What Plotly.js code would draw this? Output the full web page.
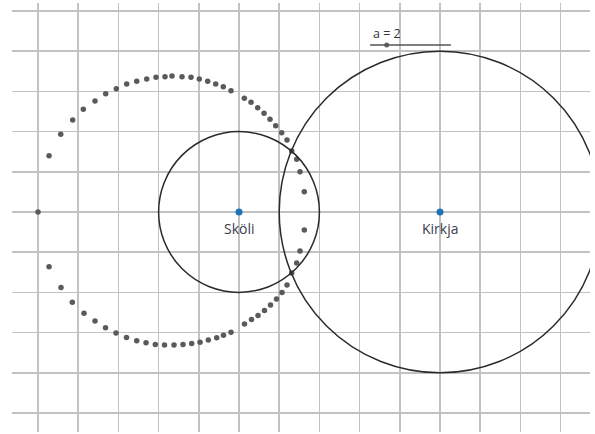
<!DOCTYPE html>
<html><head><meta charset="utf-8">
<script src="https://cdn.plot.ly/plotly-3.0.1.min.js"></script>
<style>html,body{margin:0;padding:0;background:#fff}</style>
</head><body><div id="chart" style="width:595px;height:434px"></div>
<script>
// Places
const placeNames = ["Sköli", "Kirkja"];
const placeX = [0, 5];
const placeY = [0, 0];
// Circles around places (radius in grid units)
const circleCenterX = [0, 5];
const circleCenterY = [0, 0];
const circleRadius = [2, 4];
// Locus dots
const dotX = [-5.0, -4.726, -4.435, -4.137, -3.873, -3.582, -3.316, -3.052, -2.794, -2.545, -2.296, -2.065, -1.841, -1.667, -1.418, -1.194, -0.988, -0.779, -0.580, -0.391, -0.199, 0.132, 0.299, 0.465, 0.622, 0.771, 0.913, 1.062, 1.194, 1.311, 1.435, 1.517, 1.624,
  -4.726, -4.428, -4.147, -3.856, -3.582, -3.321, -3.060, -2.799, -2.545, -2.313, -2.082, -1.853, -1.617, -1.393, -1.177, -0.970, -0.764, -0.555, -0.386, -0.199, 0.137, 0.311, 0.473, 0.634, 0.784, 0.933, 1.070, 1.194, 1.311, 1.435, 1.517, 1.624];
const dotY = [0.0, 1.400, 1.933, 2.289, 2.555, 2.761, 2.943, 3.067, 3.184, 3.251, 3.308, 3.351, 3.366, 3.383, 3.366, 3.351, 3.308, 3.251, 3.184, 3.117, 3.017, 2.828, 2.729, 2.595, 2.455, 2.306, 2.144, 1.973, 1.791, 1.517, 1.311, 1.002, 0.505,
  -1.361, -1.878, -2.246, -2.520, -2.711, -2.878, -3.010, -3.122, -3.201, -3.251, -3.296, -3.308, -3.308, -3.296, -3.271, -3.241, -3.184, -3.127, -3.067, -2.993, -2.786, -2.674, -2.575, -2.450, -2.313, -2.164, -2.002, -1.816, -1.517, -1.269, -0.970, -0.448];
// Slider "a = 2"
const sliderLabel = "a = 2";
const sliderStartX = 3.26, sliderEndX = 5.27, sliderY = 4.154;
const sliderKnobX = [3.674];

const traces = [
  {x: dotX, y: dotY, mode: "markers", type: "scatter",
   marker: {color: "#5a5a5a", size: 5.5}, hoverinfo: "skip"},
  {x: placeX, y: placeY, mode: "markers", type: "scatter",
   marker: {color: "#1f74b8", size: 7}, text: placeNames},
  {x: sliderKnobX, y: [sliderY], mode: "markers", type: "scatter",
   marker: {color: "#666", size: 5}}
];

const shapes = circleRadius.map((r, i) => ({
  type: "circle", xref: "x", yref: "y",
  x0: circleCenterX[i] - r, x1: circleCenterX[i] + r,
  y0: circleCenterY[i] - r, y1: circleCenterY[i] + r,
  line: {color: "#2b2b2b", width: 1.5}
}));
shapes.push({type: "line", xref: "x", yref: "y", x0: sliderStartX, x1: sliderEndX,
  y0: sliderY, y1: sliderY, line: {color: "#555", width: 1.5}});

const annotations = placeNames.map((n, i) => ({
  x: placeX[i], y: placeY[i], xref: "x", yref: "y", text: n, showarrow: false,
  yshift: -17, font: {family: "Open Sans, Noto Sans, sans-serif", size: 14, color: "#3a404c"}
}));
annotations.push({x: sliderStartX, y: sliderY, xref: "x", yref: "y", text: sliderLabel,
  showarrow: false, xanchor: "left", yanchor: "bottom", yshift: 1, xshift: 1,
  font: {family: "Open Sans, Noto Sans, sans-serif", size: 12.5, color: "#333"}});

const layout = {
  width: 595, height: 434,
  margin: {l: 12, r: 5, t: 3, b: 2},
  paper_bgcolor: "#fff", plot_bgcolor: "#fff",
  showlegend: false,
  xaxis: {range: [-5.647, 8.731], dtick: 1, tick0: 0, showticklabels: false, ticks: "",
    showgrid: true, gridcolor: "#c2c2c2", gridwidth: 1.5, zeroline: false, showline: false, fixedrange: true},
  yaxis: {range: [-5.473, 5.199], dtick: 1, tick0: 0, showticklabels: false, ticks: "",
    showgrid: true, gridcolor: "#c2c2c2", gridwidth: 1.5, zeroline: false, showline: false, fixedrange: true},
  shapes: shapes,
  annotations: annotations
};
Plotly.newPlot("chart", traces, layout, {staticPlot: true, displayModeBar: false});
</script>
</body></html>
